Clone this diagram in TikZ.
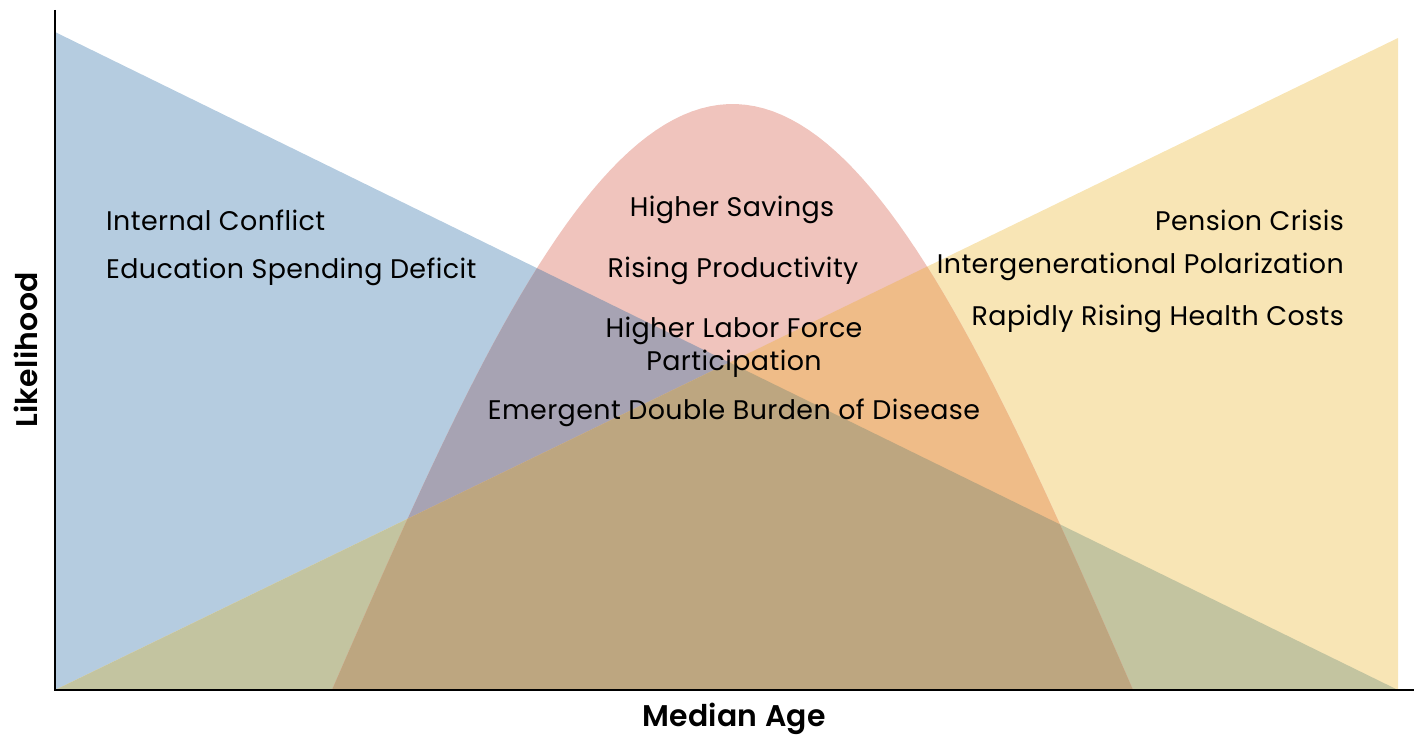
\documentclass[tikz,border=0pt]{standalone}
\usepackage{fontspec}
\setmainfont{Poppins}[LetterSpace=1.5]
\newfontfamily\axisfont{Poppins SemiBold}[LetterSpace=1]
\usetikzlibrary{positioning}
\definecolor{youngblue}{RGB}{181,204,224}
\definecolor{oldyellow}{RGB}{248,229,181}
\definecolor{midred}{RGB}{240,196,189}
\definecolor{mixby}{RGB}{195,196,160}
\definecolor{mixrb}{RGB}{167,163,179}
\definecolor{mixry}{RGB}{239,188,136}
\definecolor{mixall}{RGB}{189,166,128}

\begin{document}
\begin{tikzpicture}[x=1bp,y=-1bp,
   lbl/.style={font=\fontsize{27}{33}\selectfont, inner sep=0pt},
   axlbl/.style={font=\fontsize{30}{32}\selectfont\axisfont, inner sep=0pt},
   axis/.style={line width=2.5bp},
   youngarea/.style={insert path={(55,32) -- (55,690) -- (1398,690) -- cycle}},
   oldarea/.style={insert path={(55,690) -- (1398,38) -- (1398,690) -- cycle}},
   midarea/.style={insert path={plot[domain=-1:1,samples=90] ({732.5+400.5*\x},{690-586*cos(90*\x)}) -- cycle}}]
   \useasboundingbox (0,0) rectangle (1416,734);
   \fill[youngblue, youngarea];
   \fill[oldyellow, oldarea];
   \begin{scope}
      \clip[youngarea];
      \fill[mixby, oldarea];
   \end{scope}
   \fill[midred, midarea];
   \begin{scope}
      \clip[midarea];
      \fill[mixrb, youngarea];
      \fill[mixry, oldarea];
      \begin{scope}
         \clip[youngarea];
         \fill[mixall, oldarea];
      \end{scope}
   \end{scope}
   \path (55,10) coordinate (ytop)
         (55,690) coordinate (orig)
         (1414,690) coordinate (xend);
   \draw[axis] (ytop) -- (orig) -- (xend);
   \node[lbl, anchor=base west] (conflict) at (106,230) {Internal Conflict};
   \node[lbl, anchor=base west] (education) at (106,278) {Education Spending Deficit};
   \node[lbl, anchor=base] (savings) at (732,216) {Higher Savings};
   \node[lbl, anchor=base] (productivity) at (733,277) {Rising Productivity};
   \node[lbl, anchor=base, align=center] (labor) at (734,370) {Higher Labor Force\\Participation};
   \node[lbl, anchor=base] (disease) at (734,419) {Emergent Double Burden of Disease};
   \node[lbl, anchor=base east] (pension) at (1344,230) {Pension Crisis};
   \node[lbl, anchor=base east] (polarization) at (1344,273) {Intergenerational Polarization};
   \node[lbl, anchor=base east] (health) at (1344,325) {Rapidly Rising Health Costs};
   \node[axlbl, anchor=base] (xlabel) at (734,726) {Median Age};
   \node[axlbl, anchor=base, rotate=90] (ylabel) at (37,350) {Likelihood};
\end{tikzpicture}
\end{document}
